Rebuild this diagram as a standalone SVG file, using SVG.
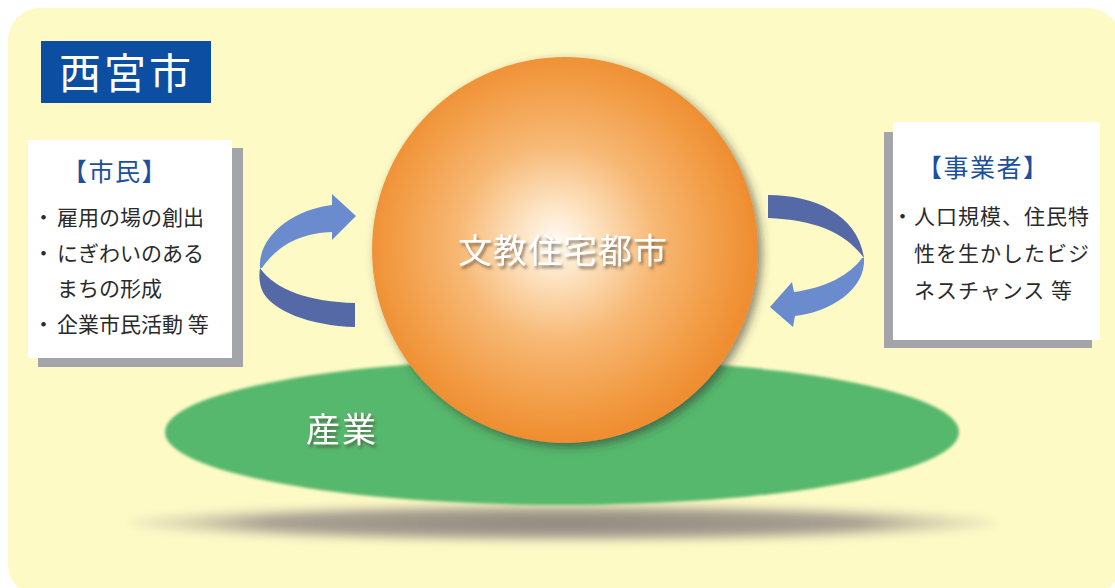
<svg xmlns="http://www.w3.org/2000/svg" width="1115" height="588" viewBox="0 0 1115 588">
<style>
.jp{font-family:"Noto Sans CJK JP","Noto Sans",sans-serif;}
.hdr{font-size:25px;fill:#1d4f9c;letter-spacing:1.5px;}
.item{font-size:21px;fill:#2a2a2a;}
.white{fill:#ffffff;}
.band-light{fill:#6a8ccf;}
.band-dark{fill:#5569a6;}
.boxshadow{fill:#a4a5ab;}
.box{fill:#ffffff;}
</style>
<defs>
<radialGradient id="sphereGrad" gradientUnits="userSpaceOnUse" cx="558" cy="245" r="198" fx="556" fy="240">
<stop offset="0" stop-color="#fffaf2"/>
<stop offset="0.18" stop-color="#fde4c4"/>
<stop offset="0.5" stop-color="#f7b874"/>
<stop offset="0.82" stop-color="#f29c45"/>
<stop offset="1" stop-color="#ee8d30"/>
</radialGradient>
<radialGradient id="shadowGrad" cx="0.5" cy="0.5" r="0.5">
<stop offset="0" stop-color="#8f877c"/>
<stop offset="0.7" stop-color="#a8a092"/>
<stop offset="1" stop-color="#d8d2b0" stop-opacity="0.3"/>
</radialGradient>
<filter id="sphereShadow" x="-20%" y="-20%" width="140%" height="140%">
<feDropShadow dx="4" dy="4" stdDeviation="5" flood-color="#303030" flood-opacity="0.55"/>
</filter>
<filter id="soft" x="-5%" y="-10%" width="110%" height="120%">
<feGaussianBlur stdDeviation="1.6"/>
</filter>
<filter id="blur6" x="-10%" y="-80%" width="120%" height="260%">
<feGaussianBlur stdDeviation="5"/>
</filter>
<filter id="textShadow" x="-10%" y="-30%" width="120%" height="160%">
<feDropShadow dx="2" dy="3" stdDeviation="1.8" flood-color="#4a3a2a" flood-opacity="0.6"/>
</filter>
</defs>

<rect x="0" y="0" width="1115" height="588" fill="#ffffff"/>
<rect id="background" x="8" y="8" width="1112" height="588" rx="32" fill="#fefac6"/>

<g id="ground-shadow">
<ellipse cx="563" cy="523" rx="435" ry="19" fill="url(#shadowGrad)" filter="url(#blur6)"/>
</g>

<g id="industry">
<ellipse cx="562" cy="432" rx="397" ry="73" fill="#57b86c" filter="url(#soft)"/>
<text class="jp white" x="306" y="442" font-size="34" letter-spacing="2" filter="url(#textShadow)">産業</text>
</g>

<g id="city">
<circle cx="565" cy="250" r="193" fill="url(#sphereGrad)" filter="url(#sphereShadow)"/>
<text class="jp white" x="563" y="263" font-size="34" letter-spacing="1" text-anchor="middle" filter="url(#textShadow)">文教住宅都市</text>
</g>

<g id="title">
<rect x="41" y="41" width="170" height="62" fill="#0b4ea2"/>
<text class="jp white" x="59" y="89" font-size="42" letter-spacing="3">西宮市</text>
</g>

<g id="citizens">
<rect class="boxshadow" x="38" y="148" width="205" height="219"/>
<rect class="box" x="28" y="140" width="204" height="218"/>
<text class="jp hdr" x="62" y="181">【市民】</text>
<text class="jp item" y="225"><tspan x="33">・</tspan><tspan x="57">雇用の場の創出</tspan></text>
<text class="jp item" y="261"><tspan x="33">・</tspan><tspan x="57">にぎわいのある</tspan></text>
<text class="jp item" x="57" y="296">まちの形成</text>
<text class="jp item" y="332"><tspan x="33">・</tspan><tspan x="57">企業市民活動 等</tspan></text>
</g>

<g id="business">
<rect class="boxshadow" x="884" y="132" width="208" height="216"/>
<rect class="box" x="893" y="122" width="207" height="218"/>
<text class="jp hdr" x="917" y="177" letter-spacing="2.5">【事業者】</text>
<text class="jp item" y="224" letter-spacing="1"><tspan x="892">・</tspan><tspan x="914">人口規模、住民特</tspan></text>
<text class="jp item" x="914" y="261" letter-spacing="1">性を生かしたビジ</text>
<text class="jp item" x="914" y="298" letter-spacing="1">ネスチャンス 等</text>
</g>

<g id="connectors">
<g id="arrow-left">
<path class="band-dark" d="M 260 268 C 275 290, 310 302, 355 303 L 355 327 C 310 326, 270 310, 262 290 C 259 282, 259 275, 260 268 Z"/>
<path class="band-light" d="M 260 268 C 258 238, 290 210, 332 205 L 332 194 L 356 216 L 332 240 L 332 232 C 305 233, 280 242, 262 268 Z"/>
</g>
<g id="arrow-right">
<path class="band-dark" d="M 768 195 C 815 195, 858 215, 864 258 C 845 232, 815 220, 768 218 Z"/>
<path class="band-light" d="M 864 258 C 866 290, 830 312, 795 316 L 793 327 L 770 307 L 792 282 L 794 292 C 825 288, 850 275, 862 258 Z"/>
</g>
</g>
</svg>
